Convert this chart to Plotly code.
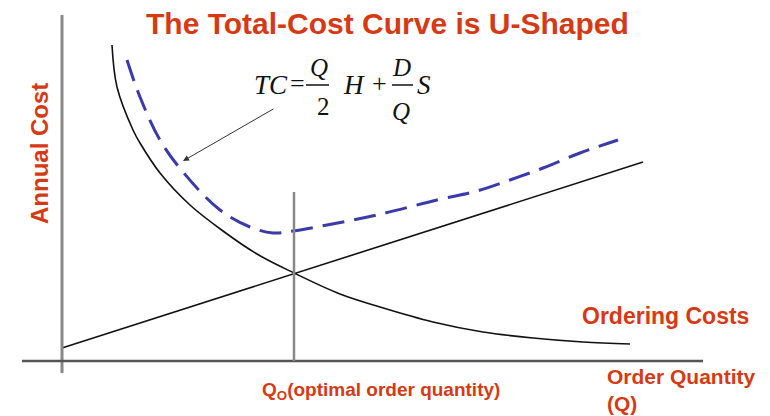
import plotly.graph_objects as go

# order quantity (Q) vs annual cost
ordering_q = [50, 55, 71, 78, 98, 128, 161, 195, 232, 278, 318, 371, 421, 471, 521, 568]
ordering_cost = [316, 274, 231, 218, 188, 156, 130, 107, 88, 67, 54, 39, 29, 23, 19, 17]

holding_q = [0, 581]
holding_cost = [13, 199]

total_q = [65, 78, 98, 121, 158, 188, 211, 231, 265, 315, 375, 415, 448, 481, 518, 556]
total_cost = [301, 264, 221, 189, 151, 134, 128, 130, 136, 146, 161, 170, 181, 193, 208, 221]

q_opt = 232
q_opt_top = 169

RED = '#D63A14'
W, H = 770, 416


def P(px, py):
    # pixel position -> paper coords (margins are zero)
    return px / W, 1 - py / H


fig = go.Figure()

fig.add_trace(go.Scatter(x=ordering_q, y=ordering_cost, mode='lines',
                         line=dict(color='#111111', width=1.6, shape='spline', smoothing=1),
                         hoverinfo='skip'))
fig.add_trace(go.Scatter(x=holding_q, y=holding_cost, mode='lines',
                         line=dict(color='#111111', width=1.6), hoverinfo='skip'))
fig.add_trace(go.Scatter(x=total_q, y=total_cost, mode='lines',
                         line=dict(color='#3A3AAA', width=3, dash='22px,10px', shape='spline', smoothing=1),
                         hoverinfo='skip'))

# axes and the Q0 marker line
fig.add_shape(type='line', x0=0, x1=0, y0=-12, y1=346, line=dict(color='#888888', width=3))
fig.add_shape(type='line', x0=-40, x1=641, y0=0, y1=0, line=dict(color='#555555', width=2.5))
fig.add_shape(type='line', x0=q_opt, x1=q_opt, y0=0, y1=q_opt_top, line=dict(color='#888888', width=2.5))

texts = []


def txt(s, px, py, size, color=RED, family='Liberation Sans', xanchor='center', angle=0):
    x, y = P(px, py)
    texts.append(dict(text=s, x=x, y=y, xref='paper', yref='paper', showarrow=False,
                      xanchor=xanchor, yanchor='middle', textangle=angle, align=xanchor,
                      font=dict(family=family, size=size, color=color)))


txt('<b>The Total-Cost Curve is U-Shaped</b>', 388, 23, 30)
txt('<b>Annual Cost</b>', 39, 154, 24, angle=-90)
txt('<b>Ordering Costs</b>', 580, 316, 23, xanchor='left')
txt('<b>Order Quantity<br>(Q)</b>', 605, 390, 21, xanchor='left')
txt('<b>Q<sub>O</sub>(optimal order quantity)</b>', 260, 391, 19, xanchor='left')

# formula TC = Q/2 H + D/Q S
serif = 'Liberation Serif'
txt('<i>TC</i>', 271, 85, 27, color='#111111', family=serif)
txt('=', 297, 84, 26, color='#111111', family=serif)
txt('<i>Q</i>', 319, 67, 25, color='#111111', family=serif)
txt('2', 323, 106, 25, color='#111111', family=serif)
txt('<i>H</i>', 354, 85, 27, color='#111111', family=serif)
txt('+', 379, 84, 26, color='#111111', family=serif)
txt('<i>D</i>', 402, 67, 25, color='#111111', family=serif)
txt('<i>Q</i>', 401, 111, 25, color='#111111', family=serif)
txt('<i>S</i>', 424, 85, 27, color='#111111', family=serif)

for a, b in [(306, 329), (392, 413)]:
    x0, y0 = P(a, 85)
    x1, _ = P(b, 85)
    fig.add_shape(type='line', xref='paper', yref='paper', x0=x0, x1=x1, y0=y0, y1=y0,
                  line=dict(color='#111111', width=1.5))

# arrow from formula to the total-cost curve
texts.append(dict(x=121, y=200, ax=213, ay=253, xref='x', yref='y', axref='x', ayref='y',
                  showarrow=True, arrowhead=2, arrowsize=1.2, arrowwidth=1, arrowcolor='#333333',
                  text=''))

fig.update_layout(
    width=W, height=H,
    margin=dict(l=0, r=0, t=0, b=0),
    paper_bgcolor='white', plot_bgcolor='white',
    showlegend=False,
    annotations=texts,
    xaxis=dict(range=[-62, 708], visible=False, fixedrange=True),
    yaxis=dict(range=[-55, 361], visible=False, fixedrange=True),
)

fig.write_html("out.html", config={'displayModeBar': False},
               post_script="document.body.style.margin='0';")
